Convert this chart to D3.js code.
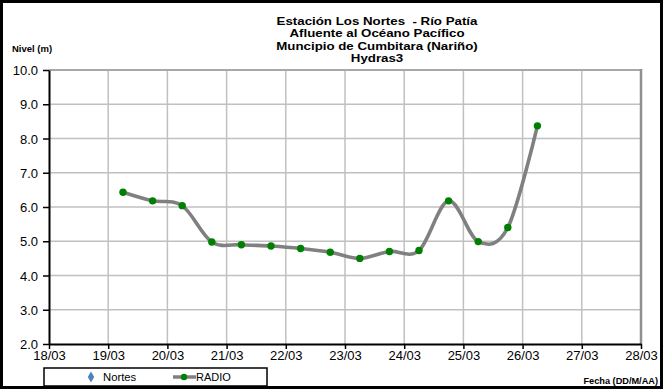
<!DOCTYPE html>
<html>
<head>
<meta charset="utf-8">
<script src="https://cdn.jsdelivr.net/npm/d3@7"></script>
<style>
html,body{margin:0;padding:0;background:#fff;}
svg{display:block;font-family:"Liberation Sans",Arial,sans-serif;}
</style>
</head>
<body>
<svg id="chart" width="663" height="389"></svg>
<script>
// ---- data ----
const titleLines = ["Estación Los Nortes  - Río Patía", "Afluente al Océano Pacífico", "Muncipio de Cumbitara (Nariño)", "Hydras3"];
const yAxisTitle = "Nivel (m)";
const xAxisTitle = "Fecha (DD/M/AA)";
const times = ["2012-03-19T06:00","2012-03-19T18:00","2012-03-20T06:00","2012-03-20T18:00","2012-03-21T06:00","2012-03-21T18:00","2012-03-22T06:00","2012-03-22T18:00","2012-03-23T06:00","2012-03-23T18:00","2012-03-24T06:00","2012-03-24T18:00","2012-03-25T06:00","2012-03-25T18:00","2012-03-26T06:00"];
const radio = [6.43, 6.18, 6.04, 4.98, 4.90, 4.86, 4.79, 4.68, 4.50, 4.70, 4.73, 6.18, 4.99, 5.40, 8.37];
const xTickDates = ["2012-03-18","2012-03-19","2012-03-20","2012-03-21","2012-03-22","2012-03-23","2012-03-24","2012-03-25","2012-03-26","2012-03-27","2012-03-28"];
const yTicks = [2,3,4,5,6,7,8,9,10];
const legendNames = ["Nortes", "RADIO"];

const parseT = d3.timeParse("%Y-%m-%dT%H:%M");
const parseD = d3.timeParse("%Y-%m-%d");
const data = times.map((t,i)=>({t:parseT(t), v:radio[i]}));
const xt = xTickDates.map(parseD);

const svg = d3.select("#chart");
const W = 663, H = 389;
const L = 49, R = 641, T = 70, B = 344;

const x = d3.scaleTime().domain([xt[0], xt[xt.length-1]]).range([L, R]);
const y = d3.scaleLinear().domain([2, 10]).range([B, T]);

// outer border
svg.append("rect").attr("x",1.5).attr("y",1.5).attr("width",W-3).attr("height",H-3)
  .attr("fill","#fff").attr("stroke","#000").attr("stroke-width",3);

// grid
const g = svg.append("g");
g.selectAll(".vg").data(xt.slice(1,-1)).join("line")
  .attr("x1",d=>x(d)).attr("x2",d=>x(d)).attr("y1",T).attr("y2",B)
  .attr("stroke","#c0c0c0").attr("stroke-width",1.5);
g.selectAll(".hg").data(yTicks.slice(1,-1)).join("line")
  .attr("x1",L).attr("x2",R).attr("y1",d=>y(d)).attr("y2",d=>y(d))
  .attr("stroke","#c0c0c0").attr("stroke-width",1.5);
// top and right border
g.append("line").attr("x1",L).attr("x2",R).attr("y1",T).attr("y2",T).attr("stroke","#a8a8a8").attr("stroke-width",2);
g.append("line").attr("x1",R).attr("x2",R).attr("y1",T-1).attr("y2",B).attr("stroke","#909090").attr("stroke-width",2.5);

// axes
const xAxis = d3.axisBottom(x).tickValues(xt).tickFormat(d3.timeFormat("%d/%m")).tickSize(5).tickSizeOuter(0);
const yAxis = d3.axisLeft(y).tickValues(yTicks).tickFormat(d3.format(".1f")).tickSize(6).tickSizeOuter(0);
const gx = svg.append("g").attr("transform",`translate(0,${B})`).call(xAxis);
const gy = svg.append("g").attr("transform",`translate(${L},0)`).call(yAxis);
[gx,gy].forEach(a=>{
  a.select(".domain").attr("stroke","#000").attr("stroke-width",2);
  a.selectAll(".tick line").attr("stroke","#000").attr("stroke-width",1.5);
  a.selectAll("text").attr("font-family","Liberation Sans, Arial, sans-serif").attr("font-size",13).attr("fill","#000");
});
gx.selectAll("text").attr("dy","0.71em").attr("y",7);
gy.selectAll("text").attr("x",-11).attr("dy","0.35em");

// line
const line = d3.line().x(d=>x(d.t)).y(d=>y(d.v)).curve(d3.curveCardinal.tension(0));
svg.append("path").datum(data).attr("d",line).attr("fill","none")
  .attr("stroke","#808080").attr("stroke-width",3.6).attr("stroke-linejoin","round").attr("stroke-linecap","round");
svg.selectAll(".pt").data(data).join("circle")
  .attr("cx",d=>x(d.t)).attr("cy",d=>y(d.v)).attr("r",3.7).attr("fill","#008000");

// titles (slightly widened glyphs, as in the reference)
svg.append("g").selectAll("text").data(titleLines).join("text")
  .attr("transform",(d,i)=>`translate(377,${21+i*12.4}) scale(1.21,1)`).attr("dy","0.35em")
  .attr("text-anchor","middle").attr("font-size",11).attr("font-weight","bold")
  .style("white-space","pre").text(d=>d);
svg.append("text").attr("x",12).attr("y",49).attr("dy","0.35em")
  .attr("font-size",9.5).attr("font-weight","bold").text(yAxisTitle);
svg.append("text").attr("x",658).attr("y",381).attr("dy","0.35em").attr("text-anchor","end")
  .attr("font-size",9.2).attr("font-weight","bold").text(xAxisTitle);

// legend
const lg = svg.append("g");
lg.append("rect").attr("x",44).attr("y",368).attr("width",223).attr("height",18)
  .attr("fill","#fff").attr("stroke","#000").attr("stroke-width",1.5);
lg.append("path").attr("d",d3.symbol(d3.symbolDiamond,36)()).attr("transform","translate(91,377)").attr("fill","#4f81bd");
lg.append("text").attr("x",103).attr("y",377).attr("dy","0.35em").attr("font-size",11.3).text(legendNames[0]);
lg.append("line").attr("x1",173).attr("x2",196).attr("y1",377).attr("y2",377).attr("stroke","#808080").attr("stroke-width",3.5);
lg.append("circle").attr("cx",184).attr("cy",377).attr("r",3.2).attr("fill","#008000");
lg.append("text").attr("x",196).attr("y",377).attr("dy","0.35em").attr("font-size",11).text(legendNames[1]);
</script>
</body>
</html>
